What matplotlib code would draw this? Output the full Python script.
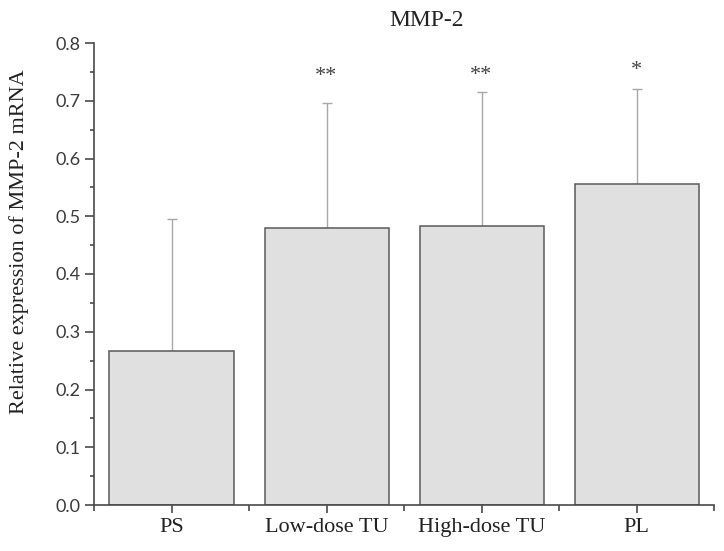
import matplotlib
matplotlib.use("Agg")
import matplotlib.pyplot as plt
from matplotlib.ticker import MultipleLocator, FixedLocator

categories = ["PS", "Low-dose TU", "High-dose TU", "PL"]
values = [0.266, 0.479, 0.483, 0.555]
upper_err = [0.229, 0.217, 0.232, 0.165]
stars = ["", "**", "**", "*"]
star_y = [0.0, 0.735, 0.736, 0.745]
yticks = [0.0, 0.1, 0.2, 0.3, 0.4, 0.5, 0.6, 0.7, 0.8]

serif = ["Liberation Serif", "DejaVu Serif"]
sans = ["Lato", "DejaVu Sans"]

fig = plt.figure(figsize=(7.24, 5.51), dpi=100)
ax = fig.add_axes([94/724, 1-505/551, (714-94)/724, (505-43)/551])

x = list(range(len(categories)))
ax.bar(x, values, width=0.8, color="#e0e0e0", edgecolor="#5a5a5a", linewidth=1.1, zorder=2)
ax.errorbar(x, values, yerr=[[0]*4, upper_err], fmt="none", ecolor="#a8a8a8",
            elinewidth=1.0, capsize=3.6, capthick=1.0, zorder=1)
for xi, sy, s in zip(x, star_y, stars):
    if s:
        ax.text(xi, sy, s, ha="center", va="baseline", fontsize=16,
                family=serif, color="#444444")

ax.set_xlim(-0.5, 3.5)
ax.set_ylim(0, 0.8)
ax.set_yticks(yticks)
ax.set_yticklabels([f"{t:.1f}" for t in yticks], family=sans, fontsize=13, color="#3a3a3a")
ax.yaxis.set_minor_locator(MultipleLocator(0.05))
ax.set_xticks(x)
ax.set_xticklabels(categories, family=serif, fontsize=16, color="#222222")
ax.xaxis.set_minor_locator(FixedLocator([-0.5, 0.5, 1.5, 2.5, 3.5]))

for side in ["top", "right"]:
    ax.spines[side].set_visible(False)
for side in ["left", "bottom"]:
    ax.spines[side].set_color("#4a4a4a")
    ax.spines[side].set_linewidth(1.2)
ax.tick_params(which="major", direction="out", length=6.5, width=1.2, color="#4a4a4a")
ax.tick_params(which="minor", direction="out", length=3, width=1.2, color="#4a4a4a")
ax.tick_params(axis="x", which="major", length=6)
ax.tick_params(axis="x", which="minor", length=4)
ax.tick_params(axis="y", which="major", pad=3)

ax.set_ylabel("Relative expression of MMP-2 mRNA", family=serif, fontsize=16,
              color="#222222")
ax.yaxis.set_label_coords(-0.105, (505-242)/462)
fig.text(426.5/724, 1-20.5/551, "MMP-2", ha="center", va="center", family=serif,
         fontsize=17, color="#222222")

fig.savefig("out.png", dpi=100)
